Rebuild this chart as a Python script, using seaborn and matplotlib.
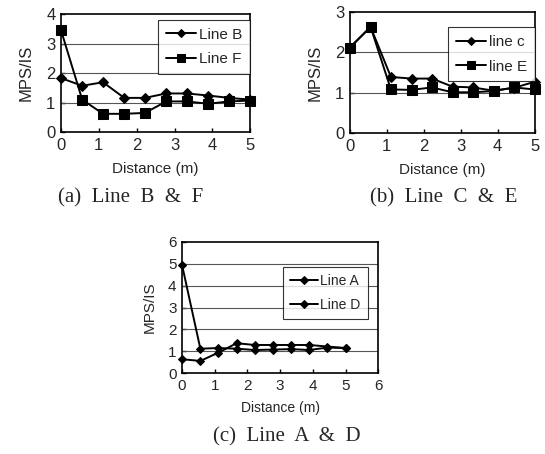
import matplotlib
matplotlib.use("Agg")
import matplotlib.pyplot as plt
import seaborn as sns
import pandas as pd

sns.set_theme(style="white")
plt.rcParams['font.family'] = ['Liberation Sans', 'DejaVu Sans']

distance = [0, 0.56, 1.11, 1.67, 2.22, 2.78, 3.33, 3.89, 4.44, 5.0]
line_b = [1.83, 1.57, 1.69, 1.16, 1.16, 1.31, 1.31, 1.24, 1.16, 1.10]
line_f = [3.45, 1.10, 0.62, 0.62, 0.65, 1.04, 1.04, 0.96, 1.04, 1.07]
line_c = [2.12, 2.63, 1.39, 1.35, 1.35, 1.15, 1.13, 1.05, 1.12, 1.27]
line_e = [2.12, 2.63, 1.08, 1.07, 1.13, 1.01, 1.01, 1.04, 1.13, 1.08]
line_a = [4.95, 1.12, 1.15, 1.12, 1.06, 1.08, 1.10, 1.06, 1.17, 1.15]
line_d = [0.64, 0.56, 0.94, 1.37, 1.29, 1.29, 1.29, 1.29, 1.22, 1.15]

fig = plt.figure(figsize=(5.45, 4.54), dpi=100)

panels = [
    dict(rect=[0.112, 0.709, 0.347, 0.260],
         series=[("Line B", line_b, "D", 5), ("Line F", line_f, "s", 6.5)],
         ymax=4, xmax=5, leg=(0.290, 0.956), caption="(a)  Line  B  &  F", cap=(0.240, 0.565),
         fs=11, xpad=7, ypad=9),
    dict(rect=[0.642, 0.707, 0.339, 0.2665],
         series=[("line c", line_c, "D", 5), ("line E", line_e, "s", 6.5)],
         ymax=3, xmax=5, leg=(0.822, 0.940), caption="(b)  Line  C  &  E", cap=(0.815, 0.565),
         fs=11, xpad=7, ypad=9),
    dict(rect=[0.334, 0.178, 0.360, 0.289],
         series=[("Line A", line_a, "D", 4.5), ("Line D", line_d, "D", 4.5)],
         ymax=6, xmax=6, leg=(0.519, 0.412), caption="(c)  Line  A  &  D", cap=(0.527, 0.037),
         fs=10, xpad=6, ypad=8),
]

for p in panels:
    ax = fig.add_axes(p["rect"])
    for name, vals, mk, ms in p["series"]:
        df = pd.DataFrame({"Distance": distance, "MPS/IS": vals})
        sns.lineplot(data=df, x="Distance", y="MPS/IS", ax=ax, color="black", marker=mk,
                     markersize=ms, linewidth=1.4, markeredgecolor="black", label=name,
                     clip_on=False, zorder=3)
    ax.set_xlim(0, p["xmax"])
    ax.set_ylim(0, p["ymax"])
    ax.set_xticks(range(0, p["xmax"] + 1))
    ax.set_yticks(range(0, p["ymax"] + 1))
    for yv in range(1, p["ymax"]):
        ax.axhline(yv, color="#555555", linewidth=0.8, zorder=1)
    for s in ax.spines.values():
        s.set_color("black")
        s.set_linewidth(1.2)
    ax.tick_params(axis="both", direction="in", length=3, width=1, color="black",
                   labelsize=p["fs"] + 1, pad=4, bottom=True, left=True)
    ax.set_xlabel("Distance (m)", fontsize=p["fs"], labelpad=p["xpad"])
    ax.set_ylabel("MPS/IS", fontsize=p["fs"] + 1, labelpad=p["ypad"])
    leg = ax.legend(loc="upper left", bbox_to_anchor=p["leg"], bbox_transform=fig.transFigure,
                    frameon=True, fancybox=False, fontsize=p["fs"], handlelength=2.0,
                    handletextpad=0.2, borderpad=0.5, labelspacing=0.7, borderaxespad=0,
                    markerscale=0.85)
    leg.get_frame().set_edgecolor("black")
    leg.get_frame().set_linewidth(0.8)
    leg.set_zorder(5)
    fig.text(p["cap"][0], p["cap"][1], p["caption"], ha="center", va="center",
             fontsize=15, family=["Liberation Serif", "DejaVu Serif"])

fig.savefig("out.png", dpi=100)
